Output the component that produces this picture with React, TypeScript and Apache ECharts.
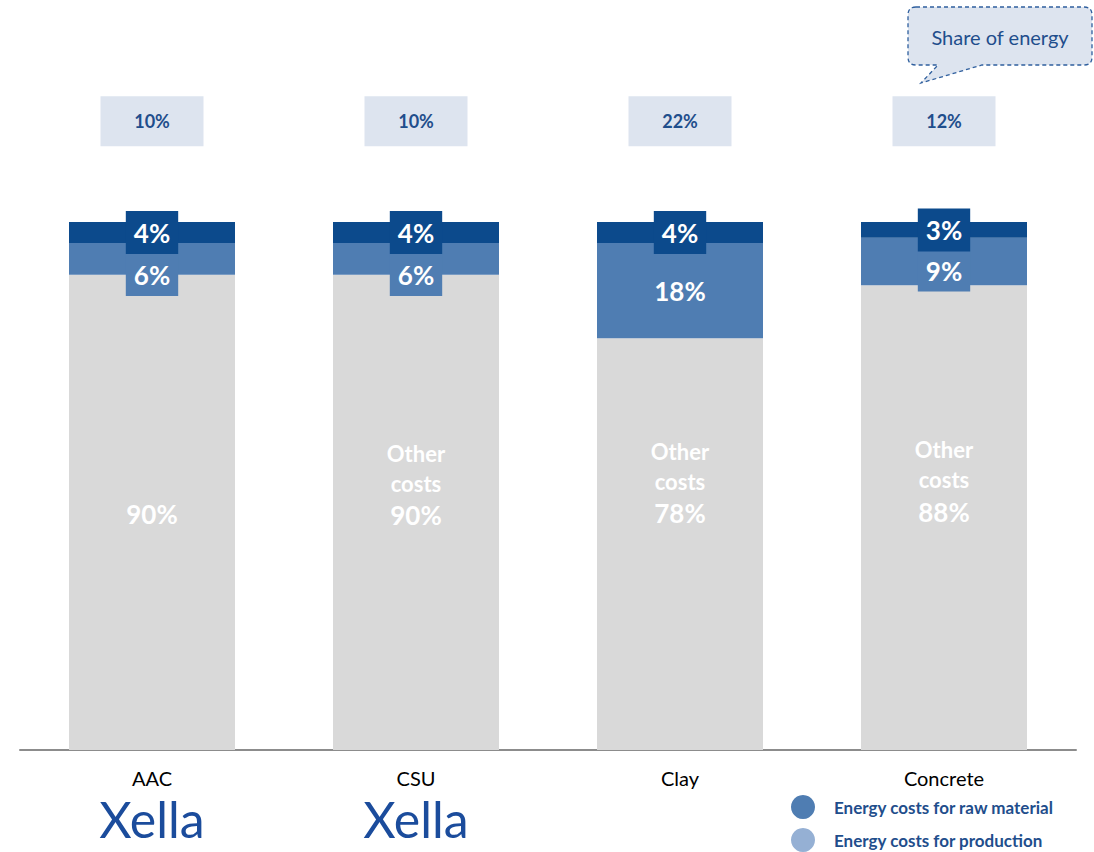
import React, { useEffect, useRef } from "react";
import * as echarts from "echarts";

const categories = ["AAC", "CSU", "Clay", "Concrete"];
const rawMaterial = [4, 4, 4, 3];
const production = [6, 6, 18, 9];
const otherCosts = [90, 90, 78, 88];
const shareOfEnergy = [10, 10, 22, 12];
const showOtherTitle = [false, true, true, true];
const hasXellaLogo = [true, true, false, false];

const seriesNames = ["Other costs", "Energy costs for production", "Energy costs for raw material"];

const FONT = "Lato, 'Open Sans', sans-serif";
const DARK = "#0c4a8c";
const MID = "#4f7db2";
const GREY = "#d9d9d9";
const LEGEND_LIGHT = "#95b0d4";
const TEXT_BLUE = "#1f4e8c";

const calloutPath =
  "M916,7 L1084,7 Q1092,7 1092,15 L1092,57 Q1092,65 1084,65 L982,65 L921,83 L938,65 L916,65 Q908,65 908,57 L908,15 Q908,7 916,7 Z";

let registered = false;
function registerShapes() {
  if (registered) return;
  registered = true;
  echarts.graphic.registerShape("callout", echarts.graphic.extendPath(calloutPath, {}) as any);
}

export default function App() {
  const ref = useRef<HTMLDivElement>(null);

  useEffect(() => {
    if (!ref.current) return;
    registerShapes();
    const chart = echarts.init(ref.current, undefined, { renderer: "svg" });

    // label offsets (layout)
    const midOffsets = [16, 16, 0, 9];
    const otherOffsets = [2, -27, -61, -36];

    const option: any = {
      animation: false,
      textStyle: { fontFamily: FONT },
      grid: { left: 20, right: 18, top: 10.8, bottom: 102, containLabel: false },
      xAxis: {
        type: "category",
        data: categories,
        axisLine: { lineStyle: { color: "#8c8c8c", width: 2 } },
        axisTick: { show: false },
        axisLabel: {
          margin: 18,
          color: "#000",
          fontSize: 20,
          lineHeight: 20,
          fontFamily: FONT,
          formatter: (v: string, i: number) =>
            hasXellaLogo[i] ? `${v}\n{logo|Xella}` : v,
          rich: {
            logo: {
              fontSize: 50,
              lineHeight: 62,
              fontWeight: "normal",
              color: "#1b4c9c",
              fontFamily: "Lato, sans-serif",
            },
          },
        },
      },
      yAxis: {
        type: "value",
        min: 0,
        max: 140,
        show: false,
        splitLine: { show: false },
      },
      legend: {
        orient: "vertical",
        left: 791,
        top: 795,
        padding: 0,
        itemWidth: 24,
        itemHeight: 24,
        itemGap: 9,
        icon: "circle",
        selectedMode: false,
        textStyle: { color: TEXT_BLUE, fontWeight: "bold", fontSize: 17, fontFamily: FONT, padding: [0, 0, 0, 14] },
        data: [
          { name: seriesNames[2], itemStyle: { color: MID } },
          { name: seriesNames[1], itemStyle: { color: LEGEND_LIGHT } },
        ],
      },
      series: [
        {
          name: seriesNames[0],
          type: "bar",
          stack: "total",
          barWidth: 166,
          itemStyle: { color: GREY },
          data: otherCosts.map((v, i) => ({
            value: v,
            label: { offset: [0, otherOffsets[i]] },
          })),
          label: {
            show: true,
            position: "inside",
            color: "#fff",
            fontFamily: FONT,
            formatter: (p: any) =>
              showOtherTitle[p.dataIndex]
                ? `{t|Other}\n{t|costs}\n{v|${p.value}%}`
                : `{v|${p.value}%}`,
            rich: {
              t: { fontSize: 22, fontWeight: "bold", lineHeight: 30, color: "#fff", fontFamily: FONT },
              v: { fontSize: 26, fontWeight: "bold", lineHeight: 34, color: "#fff", fontFamily: FONT },
            },
          },
        },
        {
          name: seriesNames[1],
          type: "bar",
          stack: "total",
          barWidth: 166,
          itemStyle: { color: MID },
          data: production.map((v, i) => ({
            value: v,
            label: {
              offset: [0, midOffsets[i]],
              backgroundColor: midOffsets[i] === 0 ? "transparent" : MID,
            },
          })),
          label: {
            show: true,
            position: "inside",
            color: "#fff",
            fontSize: 26,
            fontWeight: "bold",
            fontFamily: FONT,
            lineHeight: 24,
            padding: [9, 8],
            formatter: "{c}%",
          },
        },
        {
          name: seriesNames[2],
          type: "bar",
          stack: "total",
          barWidth: 166,
          itemStyle: { color: DARK },
          data: rawMaterial,
          label: {
            show: true,
            position: "inside",
            color: "#fff",
            fontSize: 26,
            fontWeight: "bold",
            fontFamily: FONT,
            lineHeight: 25,
            padding: [9, 8],
            backgroundColor: DARK,
            formatter: "{c}%",
          },
        },
        {
          name: "Share of energy",
          type: "scatter",
          symbol: "rect",
          symbolSize: [103, 50],
          silent: true,
          clip: false,
          itemStyle: { color: "#dde4ef", opacity: 1 },
          data: shareOfEnergy.map((v, i) => ({ value: [i, 119.1], share: v })),
          label: {
            show: true,
            position: "inside",
            color: TEXT_BLUE,
            fontWeight: "bold",
            fontSize: 18,
            fontFamily: FONT,
            formatter: (p: any) => `${shareOfEnergy[p.dataIndex]}%`,
          },
        },
      ],
      graphic: [
        {
          type: "callout",
          x: 0,
          y: 0,
          silent: true,
          style: {
            fill: "#dde4ef",
            stroke: "#2f5f9e",
            lineWidth: 1.3,
            lineDash: [4, 3],
          },
        },
        {
          type: "text",
          x: 1000,
          y: 37,
          silent: true,
          style: {
            text: "Share of energy",
            fill: TEXT_BLUE,
            fontSize: 20,
            fontFamily: FONT,
            align: "center",
            verticalAlign: "middle",
          },
        },
      ],
    };

    chart.setOption(option);
    return () => chart.dispose();
  }, []);

  return (
    <div
      ref={ref}
      style={{ position: "fixed", left: 0, top: 0, width: 1094, height: 852, background: "#fff" }}
    />
  );
}
